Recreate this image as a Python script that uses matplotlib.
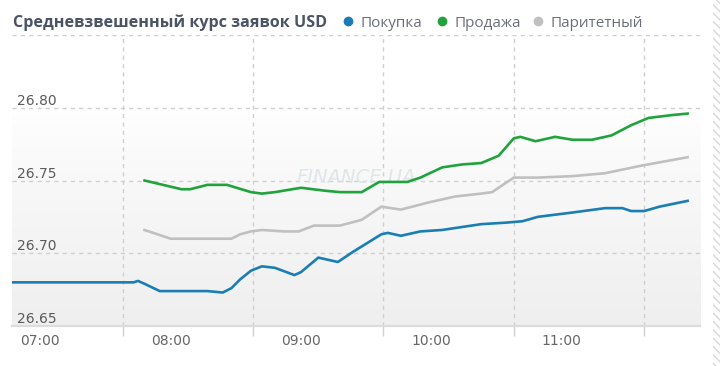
import numpy as np
import matplotlib.pyplot as plt
from matplotlib.colors import LinearSegmentedColormap
from matplotlib.lines import Line2D
from matplotlib.patches import Rectangle
import matplotlib.transforms as mtransforms

# time in minutes after midnight, rate in UAH per USD
buy_t = [407, 440, 463, 465, 468, 475, 490, 497, 504, 508, 512, 517, 522, 528,
         537, 540, 548, 557, 564, 577, 580, 586, 595, 605, 614, 623, 634, 642,
         649, 665, 680, 688, 692, 698, 705, 718]
buy_v = [26.680, 26.680, 26.680, 26.681, 26.679, 26.674, 26.674, 26.674, 26.673,
         26.676, 26.682, 26.688, 26.691, 26.690, 26.685, 26.687, 26.697, 26.694,
         26.701, 26.713, 26.714, 26.712, 26.715, 26.716, 26.718, 26.720, 26.721,
         26.722, 26.725, 26.728, 26.731, 26.731, 26.729, 26.729, 26.732, 26.736]

sell_t = [468, 485, 489, 497, 506, 517, 522, 528, 540, 551, 558, 568, 576, 589,
          595, 605, 614, 623, 631, 638, 641, 648, 657, 665, 674, 683, 692, 700,
          711, 718]
sell_v = [26.750, 26.744, 26.744, 26.747, 26.747, 26.742, 26.741, 26.742, 26.745,
          26.743, 26.742, 26.742, 26.749, 26.749, 26.752, 26.759, 26.761, 26.762,
          26.767, 26.779, 26.780, 26.777, 26.780, 26.778, 26.778, 26.781, 26.788,
          26.793, 26.795, 26.796]

par_t = [468, 480, 492, 508, 512, 517, 522, 532, 539, 546, 558, 568, 577, 586,
         599, 611, 623, 628, 638, 649, 665, 680, 696, 718]
par_v = [26.716, 26.710, 26.710, 26.710, 26.713, 26.715, 26.716, 26.715, 26.715,
         26.719, 26.719, 26.723, 26.732, 26.730, 26.735, 26.739, 26.741, 26.742,
         26.752, 26.752, 26.753, 26.755, 26.760, 26.766]

hour_ticks = [420, 480, 540, 600, 660]
hour_labels = ['07:00', '08:00', '09:00', '10:00', '11:00']
grid_x = [458, 518, 578, 638, 698]
y_ticks = [26.65, 26.70, 26.75, 26.80]

W, H = 720, 366
fig = plt.figure(figsize=(7.2, 3.66), dpi=100)
ax = fig.add_axes([12 / W, 1 - 326 / H, 688 / W, 291 / H])
ax.set_xlim(407, 723.7)
ax.set_ylim(26.65, 26.85)

# light grey gradient in lower part of plot
f = np.linspace(0, 1, 256)
g = np.clip((0.75 - f) / 0.75, 0, 1) ** 0.8
cmap = LinearSegmentedColormap.from_list('bg', ['#ffffff', '#efefef'])
ax.imshow(g[:, None], extent=[0, 1, 0, 1], transform=ax.transAxes,
          origin='lower', aspect='auto', cmap=cmap, vmin=0, vmax=1, zorder=0)

for y in y_ticks[1:] + [26.85]:
    ax.axhline(y, color='#d0d0d0', lw=1, ls=(0, (3, 3)), zorder=1)
for x in grid_x:
    ax.axvline(x, color='#d0d0d0', lw=1, ls=(0, (3, 3)), zorder=1)

ax.text(0.5, 0.51, 'FINANCE.UA', transform=ax.transAxes, ha='center',
        va='center', fontsize=14, color='#dfe6e8', style='italic', zorder=1)

ax.plot(buy_t, buy_v, color='#1a7db3', lw=1.9, zorder=3)
ax.plot(sell_t, sell_v, color='#20a33c', lw=1.9, zorder=3)
ax.plot(par_t, par_v, color='#c0c0c0', lw=1.9, zorder=2)

for s in ['left', 'right', 'top']:
    ax.spines[s].set_visible(False)
ax.spines['bottom'].set_color('#dcdcdc')
ax.spines['bottom'].set_linewidth(1.6)

ax.set_yticks([])
ax.set_xticks(hour_ticks)
ax.set_xticklabels(hour_labels, fontsize=10, color='#666666')
ax.tick_params(axis='x', which='major', length=0, pad=6)
ax.set_xticks(grid_x, minor=True)
ax.tick_params(axis='x', which='minor', length=7, color='#d0d0d0', width=1)

tr = mtransforms.blended_transform_factory(ax.transAxes, ax.transData)
for y in y_ticks:
    ax.text(5 / 688, y, '%.2f' % y, transform=tr, fontsize=10, color='#5a5a5a',
            va='bottom', ha='left')

# title and legend
fig.text(13 / W, 1 - 27 / H, 'Средневзвешенный курс заявок USD', fontsize=11.6,
         fontweight='bold', color='#4a5464', family='Open Sans', va='baseline')
legend = [('Покупка', '#1a7db3', 348), ('Продажа', '#20a33c', 442),
          ('Паритетный', '#c0c0c0', 538)]
for name, c, x in legend:
    fig.add_artist(Line2D([x / W], [1 - 21 / H], marker='o', ms=6, color=c,
                          ls='', transform=fig.transFigure))
    fig.text((x + 13) / W, 1 - 27 / H, name, fontsize=11, color='#6b6f78',
             family='Open Sans', va='baseline')

# hatched strip at right edge
fig.add_artist(Rectangle((713 / W, 0), 7 / W, 1, transform=fig.transFigure,
                         facecolor='white', edgecolor='#d8d8d8', hatch='\\\\\\\\',
                         lw=0))

fig.savefig('out.png', dpi=100)
